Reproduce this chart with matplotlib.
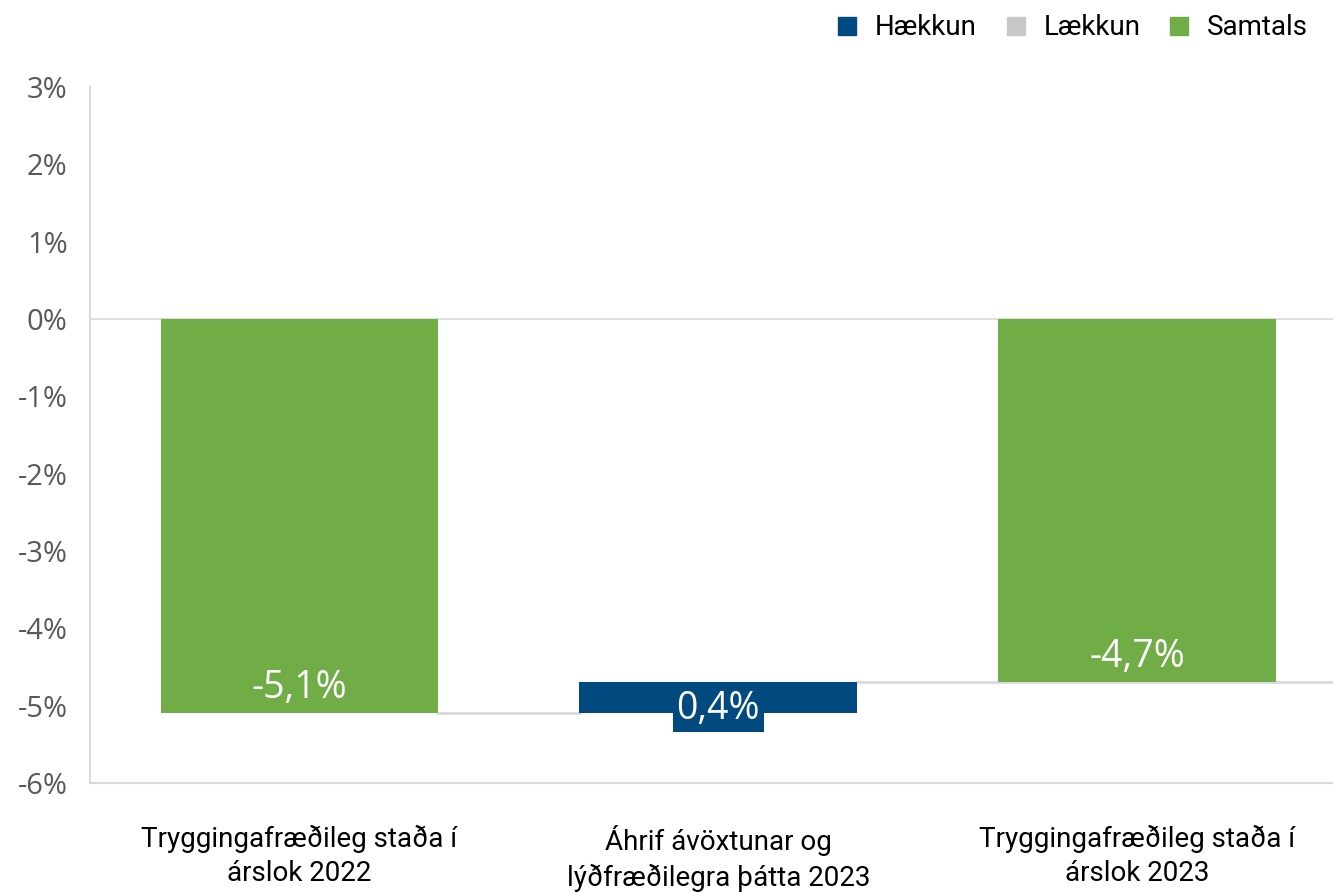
import numpy as np
import matplotlib.pyplot as plt
from matplotlib.lines import Line2D

categories = ["Tryggingafræðileg staða í\nárslok 2022",
              "Áhrif ávöxtunar og\nlýðfræðilegra þátta 2023",
              "Tryggingafræðileg staða í\nárslok 2023"]
changes = [-5.1, 0.4, -4.7]
kinds = ["total", "up", "total"]
labels = ["-5,1%", "0,4%", "-4,7%"]
yticks = [3, 2, 1, 0, -1, -2, -3, -4, -5, -6]

col_up = "#004A7F"
col_down = "#C8C8C8"
col_total = "#70AD47"
grid_col = "#D9D9D9"

fig = plt.figure(figsize=(13.33, 8.92), dpi=100)
ax = fig.add_axes([0.0675, 0.1222, 0.9325, 0.7803])

x = np.arange(len(categories))
w = 0.663

# waterfall bases
bottoms, tops = [], []
running = 0.0
for v, k in zip(changes, kinds):
    if k == "total":
        bottoms.append(min(0, v)); tops.append(max(0, v))
        running = v
    else:
        lo, hi = sorted([running, running + v])
        bottoms.append(lo); tops.append(hi)
        running = running + v

colors = [col_total if k == "total" else (col_up if v > 0 else col_down)
          for v, k in zip(changes, kinds)]
heights = [t - b for t, b in zip(tops, bottoms)]
ax.bar(x, heights, bottom=bottoms, width=w, color=colors, zorder=3)

ax.set_xlim(-0.5, 2.468)
ax.set_ylim(-6, 3)

# zero line
ax.axhline(0, color=grid_col, lw=1.2, zorder=1)
# connectors
ax.plot([x[0] + w / 2, x[1] - w / 2], [changes[0], changes[0]], color=grid_col, lw=2, zorder=1)
ax.plot([x[1] + w / 2, 2.468], [changes[0] + changes[1]] * 2, color=grid_col, lw=2, zorder=1)

# data labels
for i, (b, lab, k) in enumerate(zip(bottoms, labels, kinds)):
    if k == "total":
        ax.annotate(lab, (x[i], b), xytext=(0, 18), textcoords="offset points",
                    ha="center", va="center", color="white", fontsize=27,
                    family="Open Sans", zorder=4)
    else:
        ax.annotate(lab, (x[i], b), xytext=(0, 3), textcoords="offset points",
                    ha="center", va="center", color="white", fontsize=27,
                    family="Open Sans", zorder=4,
                    bbox=dict(boxstyle="square,pad=0.1", fc=col_up, ec="none"))

ax.set_yticks(yticks)
ax.set_yticklabels([f"{t}%" for t in yticks], fontsize=21, color="#595959", family="Open Sans")
ax.set_xticks(x)
ax.set_xticklabels(categories, fontsize=20, family=["Roboto", "DejaVu Sans"],
                   linespacing=1.35)
ax.tick_params(axis="both", length=0)
ax.tick_params(axis="x", pad=30)
ax.tick_params(axis="y", pad=16)

for s in ["top", "right"]:
    ax.spines[s].set_visible(False)
for s in ["left", "bottom"]:
    ax.spines[s].set_color(grid_col)
    ax.spines[s].set_linewidth(1.5)

handles = [Line2D([], [], marker="s", ls="", color=c, markersize=13)
           for c in [col_up, col_down, col_total]]
fig.legend(handles, ["Hækkun", "Lækkun", "Samtals"], loc="upper right",
           bbox_to_anchor=(1.0, 1.012), ncol=3, frameon=False,
           handletextpad=0.0, columnspacing=0.4, prop={"family": "Roboto", "size": 20})

fig.savefig("out.png", dpi=100)
